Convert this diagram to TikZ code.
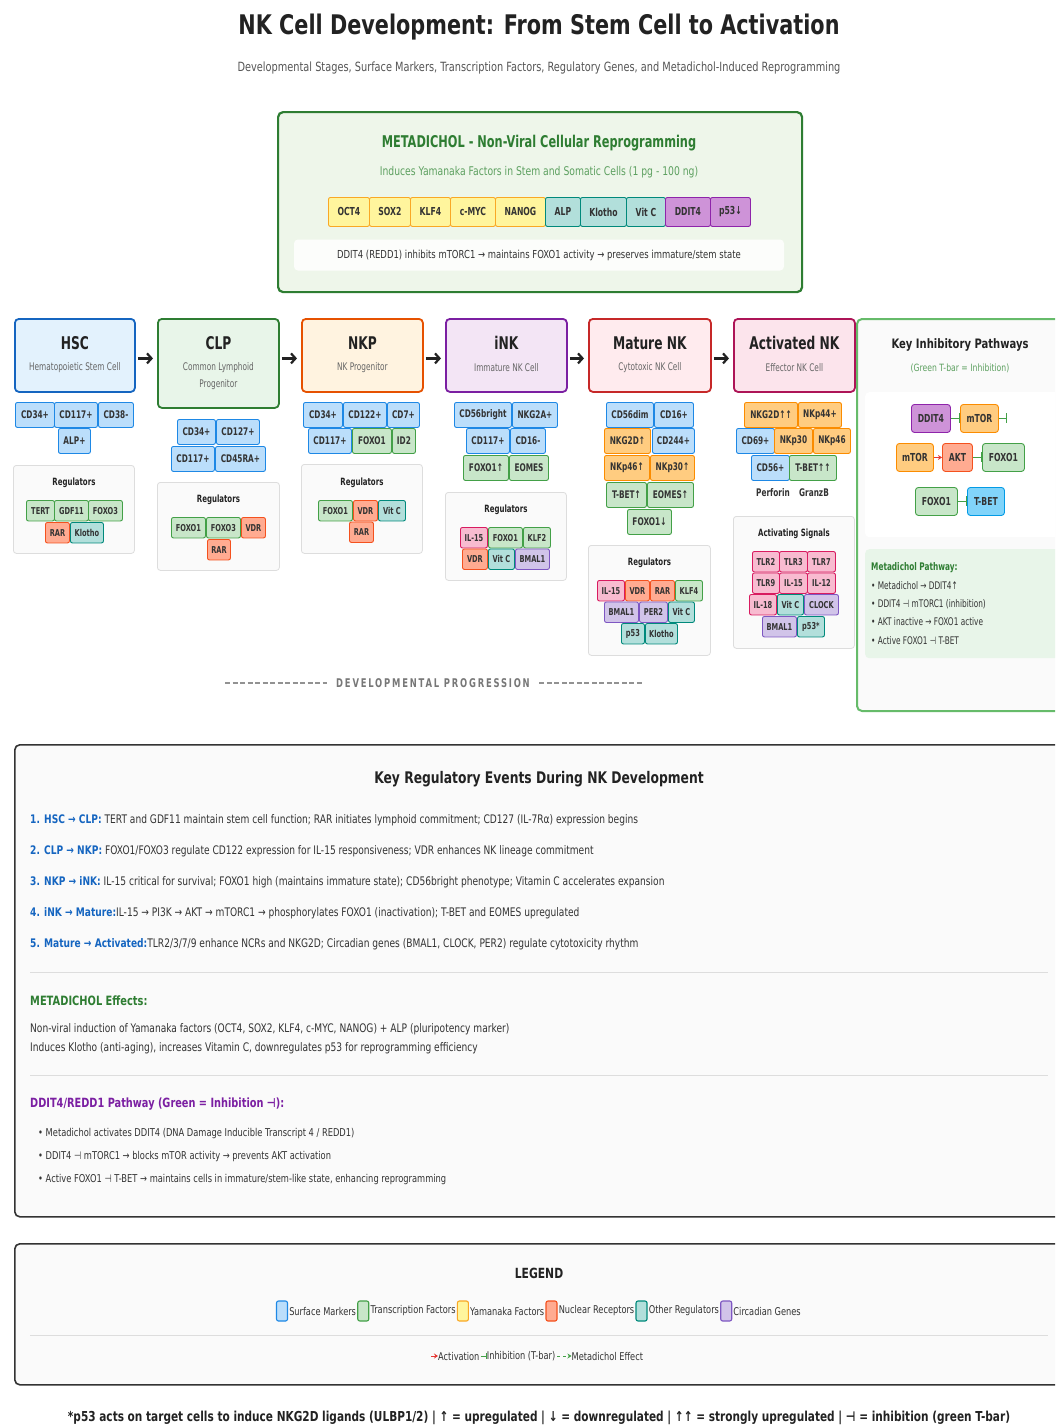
\documentclass[tikz,border=0pt]{standalone}
\usepackage{fontspec}
\setmainfont{DejaVu Sans}[FakeStretch=0.7]
\newfontfamily\widefont{DejaVu Sans}[FakeStretch=0.77]
\usetikzlibrary{arrows.meta,positioning}

\definecolor{txtdark}{HTML}{333333}
\definecolor{txttitle}{HTML}{222222}
\definecolor{txtgray}{HTML}{555555}
\definecolor{txtmid}{HTML}{666666}
\definecolor{mdline}{HTML}{2E7D32}
\definecolor{mdfill}{HTML}{EEF6EA}
\definecolor{mdsub}{HTML}{5DA060}
\definecolor{hscline}{HTML}{1565C0}
\definecolor{hscfill}{HTML}{E3F2FD}
\definecolor{clpline}{HTML}{2E7D32}
\definecolor{clpfill}{HTML}{E8F5E9}
\definecolor{nkpline}{HTML}{E65100}
\definecolor{nkpfill}{HTML}{FFF3E0}
\definecolor{inkline}{HTML}{7B1FA2}
\definecolor{inkfill}{HTML}{F3E5F5}
\definecolor{matline}{HTML}{C62828}
\definecolor{matfill}{HTML}{FFEBEE}
\definecolor{actline}{HTML}{AD1457}
\definecolor{actfill}{HTML}{FCE4EC}
\definecolor{surfF}{HTML}{BBDEFB}
\definecolor{surfL}{HTML}{1E88E5}
\definecolor{tfacF}{HTML}{C8E6C9}
\definecolor{tfacL}{HTML}{43A047}
\definecolor{yamaF}{HTML}{FFF59D}
\definecolor{yamaL}{HTML}{F9A825}
\definecolor{nrecF}{HTML}{FFAB91}
\definecolor{nrecL}{HTML}{F4511E}
\definecolor{othrF}{HTML}{B2DFDB}
\definecolor{othrL}{HTML}{00897B}
\definecolor{circF}{HTML}{D1C4E9}
\definecolor{circL}{HTML}{7E57C2}
\definecolor{actrF}{HTML}{FFCC80}
\definecolor{actrL}{HTML}{FB8C00}
\definecolor{cytoF}{HTML}{F8BBD0}
\definecolor{cytoL}{HTML}{D81B60}
\definecolor{dditF}{HTML}{CE93D8}
\definecolor{dditL}{HTML}{8E24AA}
\definecolor{tbetF}{HTML}{81D4FA}
\definecolor{tbetL}{HTML}{039BE5}
\definecolor{regF}{HTML}{FAFAFA}
\definecolor{regL}{HTML}{DDDDDD}
\definecolor{panL}{HTML}{66BB6A}
\definecolor{panG}{HTML}{E8F5E9}
\definecolor{inhG}{HTML}{43A047}
\definecolor{actR}{HTML}{E53935}
\definecolor{evblue}{HTML}{1565C0}
\definecolor{ddpurple}{HTML}{7B1FA2}
\definecolor{boxL}{HTML}{333333}
\definecolor{sepL}{HTML}{DDDDDD}
\definecolor{progG}{HTML}{777777}

\newcommand{\fsz}[2]{\fontsize{#1}{#2}\selectfont}

\begin{document}
\begin{tikzpicture}[x=1pt,y=-1pt,
	chip/.style={draw,anchor=north west,inner sep=0pt,rounded corners=2pt,line width=0.9pt,minimum height=25,text=txtdark,font=\bfseries\fsz{10.5}{12}},
	rchip/.style={chip,minimum height=20.5,font=\bfseries\fsz{9.5}{11}},
	bchip/.style={chip,minimum height=29,font=\bfseries\fsz{11}{13}},
	pchip/.style={chip,minimum height=28,rounded corners=3pt,font=\bfseries\fsz{11}{13}},
	surf/.style={fill=surfF,draw=surfL},
	tfac/.style={fill=tfacF,draw=tfacL},
	yama/.style={fill=yamaF,draw=yamaL},
	nrec/.style={fill=nrecF,draw=nrecL},
	othr/.style={fill=othrF,draw=othrL},
	circ/.style={fill=circF,draw=circL},
	actr/.style={fill=actrF,draw=actrL},
	cyto/.style={fill=cytoF,draw=cytoL},
	ddit/.style={fill=dditF,draw=dditL},
	tbet/.style={fill=tbetF,draw=tbetL},
	stage/.style={draw,anchor=north west,rounded corners=4pt,line width=1.8pt,minimum width=121,minimum height=73},
	stitle/.style={font=\bfseries\fsz{17.5}{20},text=txttitle},
	ssub/.style={font=\fsz{10.5}{17},text=txtmid,align=center},
	regbox/.style={draw=regL,fill=regF,anchor=north west,rounded corners=3pt,line width=0.8pt,minimum width=121},
	reghead/.style={font=\bfseries\fsz{10}{12},text=txttitle},
	flow/.style={-{Straight Barb[length=4.5pt,width=10pt]},line width=2.2pt,draw=txttitle,shorten <=2pt,shorten >=4pt},
	inhib/.style={-{Bar[width=10pt]},line width=1.3pt,draw=inhG},
	act/.style={-{Stealth[length=4pt,width=5pt]},line width=1.3pt,draw=actR},
	bigbox/.style={draw=boxL,fill=regF,anchor=north west,rounded corners=5pt,line width=1.6pt},
	evline/.style={anchor=west,inner sep=0pt,font=\widefont\fsz{11.8}{14},text=txtdark},
	bullet/.style={anchor=west,inner sep=0pt,font=\widefont\fsz{10.8}{12},text=txtdark},
	swatch/.style={draw,inner sep=0pt,minimum width=11,minimum height=20,rounded corners=2pt,line width=1.1pt},
	lgtext/.style={inner sep=0pt,font=\widefont\fsz{10.7}{13},text=txtdark},
	sepline/.style={draw=sepL,line width=1pt}]
	\clip (0,0) rectangle (1055,1427);
	\useasboundingbox (0,0) rectangle (1055,1427);
	\fill[white] (0,0) rectangle (1055,1427);

	\node[font=\widefont\bfseries\fsz{27}{30},text=txttitle] (title) at (539,27) {NK Cell Development: From Stem Cell to Activation};
	\node[font=\widefont\fsz{12.7}{15},text=txtgray] (subtitle) at (539,68) {Developmental Stages, Surface Markers, Transcription Factors, Regulatory Genes, and Metadichol-Induced Reprogramming};

	\node[draw=mdline,fill=mdfill,line width=2.2pt,rounded corners=5pt,anchor=north west,minimum width=524,minimum height=180] (mdbox) at (277,111) {};
	\node[font=\bfseries\fsz{16.2}{19},text=mdline] (mdtitle) at (539,143.5) {METADICHOL - Non-Viral Cellular Reprogramming};
	\node[font=\widefont\fsz{12}{15},text=mdsub] (mdsub) at (539,172) {Induces Yamanaka Factors in Stem and Somatic Cells (1 pg - 100 ng)};
	\foreach \n/\x/\w/\ty/\lbl in {1/328/41/yama/OCT4,2/369/41/yama/SOX2,3/410/40/yama/KLF4,4/450/45/yama/c-MYC,5/495/50/yama/NANOG,6/545/35/othr/ALP,7/580/46/othr/Klotho,8/626/39/othr/Vit C,9/665/45/ddit/DDIT4,10/710/40/ddit/p53↓}
		\node[bchip,\ty,minimum width=\w] (md\n) at (\x,197) {\lbl};
	\node[fill=white,fill opacity=0.85,text opacity=1,rounded corners=4pt,minimum width=490,minimum height=31,font=\widefont\fsz{11}{13},text=txtdark] (mdnote) at (539,255) {DDIT4 (REDD1) inhibits mTORC1 → maintains FOXO1 activity → preserves immature/stem state};

	\node[stage,draw=hscline,fill=hscfill,minimum width=120] (hsc) at (14,318) {};
	\node[stitle] (hsct) at ([yshift=-25pt]hsc.north) {HSC};
	\node[ssub] (hscs) at ([yshift=-50pt]hsc.north) {Hematopoietic Stem Cell};
	\node[stage,draw=clpline,fill=clpfill,minimum height=89] (clp) at (157,318) {};
	\node[stitle] (clpt) at ([yshift=-25pt]clp.north) {CLP};
	\node[ssub] (clps) at ([yshift=-58.5pt]clp.north) {Common Lymphoid\\Progenitor};
	\node[stage,draw=nkpline,fill=nkpfill] (nkp) at (301,318) {};
	\node[stitle] (nkpt) at ([yshift=-25pt]nkp.north) {NKP};
	\node[ssub] (nkps) at ([yshift=-50pt]nkp.north) {NK Progenitor};
	\node[stage,draw=inkline,fill=inkfill] (ink) at (445,318) {};
	\node[stitle] (inkt) at ([yshift=-25pt]ink.north) {iNK};
	\node[ssub] (inks) at ([yshift=-50pt]ink.north) {Immature NK Cell};
	\node[stage,draw=matline,fill=matfill,minimum width=122] (mat) at (588,318) {};
	\node[stitle] (matt) at ([yshift=-25pt]mat.north) {Mature NK};
	\node[ssub] (mats) at ([yshift=-50pt]mat.north) {Cytotoxic NK Cell};
	\node[stage,draw=actline,fill=actfill] (actv) at (733,318) {};
	\node[stitle] (actvt) at ([yshift=-25pt]actv.north) {Activated NK};
	\node[ssub] (actvs) at ([yshift=-50pt]actv.north) {Effector NK Cell};

	\draw[flow] ([yshift=-3pt]hsc.east) -- ([yshift=-3pt]hsc.east -| clp.west);
	\draw[flow] ([yshift=-3pt]nkp.west -| clp.east) -- ([yshift=-3pt]nkp.west);
	\draw[flow] ([yshift=-3pt]nkp.east) -- ([yshift=-3pt]ink.west);
	\draw[flow] ([yshift=-3pt]ink.east) -- ([yshift=-3pt]mat.west);
	\draw[flow] ([yshift=-3pt]mat.east) -- ([yshift=-3pt]actv.west);

	\foreach \n/\x/\w/\ty/\lbl in {1/15/39/surf/CD34+,2/54/43/surf/CD117+,3/98/35/surf/CD38-}
		\node[chip,\ty,minimum width=\w] (hscm\n) at (\x,402) {\lbl};
	\node[chip,surf,minimum width=32] (hscm4) at (58,428) {ALP+};
	\node[regbox,minimum height=88] (hscreg) at (13,465) {};
	\node[reghead] (hscrh) at ([yshift=-18pt]hscreg.north) {Regulators};
	\foreach \n/\x/\w/\ty/\lbl in {1/26/28/tfac/TERT,2/54/34/tfac/GDF11,3/88/34/tfac/FOXO3}
		\node[rchip,\ty,minimum width=\w] (hscr\n) at (\x,500) {\lbl};
	\foreach \n/\x/\w/\ty/\lbl in {4/45/24/nrec/RAR,5/70/33/othr/Klotho}
		\node[rchip,\ty,minimum width=\w] (hscr\n) at (\x,522) {\lbl};

	\foreach \n/\x/\w/\ty/\lbl in {1/177/38/surf/CD34+,2/216/43/surf/CD127+}
		\node[chip,\ty,minimum width=\w] (clpm\n) at (\x,419) {\lbl};
	\foreach \n/\x/\w/\ty/\lbl in {3/171/43/surf/CD117+,4/215/50/surf/CD45RA+}
		\node[chip,\ty,minimum width=\w] (clpm\n) at (\x,446) {\lbl};
	\node[regbox,minimum height=88,minimum width=122] (clpreg) at (157,482) {};
	\node[reghead] (clprh) at ([yshift=-18pt]clpreg.north) {Regulators};
	\foreach \n/\x/\w/\ty/\lbl in {1/171/34/tfac/FOXO1,2/206/34/tfac/FOXO3,3/241/24/nrec/VDR}
		\node[rchip,\ty,minimum width=\w] (clpr\n) at (\x,517) {\lbl};
	\node[rchip,nrec,minimum width=23] (clpr4) at (207,539) {RAR};

	\foreach \n/\x/\w/\ty/\lbl in {1/303/39/surf/CD34+,2/343/43/surf/CD122+,3/387/32/surf/CD7+}
		\node[chip,\ty,minimum width=\w] (nkpm\n) at (\x,402) {\lbl};
	\foreach \n/\x/\w/\ty/\lbl in {4/308/43/surf/CD117+,5/352/39/tfac/FOXO1,6/392/23/tfac/ID2}
		\node[chip,\ty,minimum width=\w] (nkpm\n) at (\x,428) {\lbl};
	\node[regbox,minimum height=89] (nkpreg) at (301,464) {};
	\node[reghead] (nkprh) at ([yshift=-19pt]nkpreg.north) {Regulators};
	\foreach \n/\x/\w/\ty/\lbl in {1/318/34/tfac/FOXO1,2/353/24/nrec/VDR,3/378/27/othr/Vit C}
		\node[rchip,\ty,minimum width=\w] (nkpr\n) at (\x,500) {\lbl};
	\node[rchip,nrec,minimum width=24] (nkpr4) at (349,521.5) {RAR};

	\foreach \n/\x/\w/\ty/\lbl in {1/454/57/surf/CD56bright,2/512/45/surf/NKG2A+}
		\node[chip,\ty,minimum width=\w] (inkm\n) at (\x,402) {\lbl};
	\foreach \n/\x/\w/\ty/\lbl in {3/466/43/surf/CD117+,4/510/35/surf/CD16-}
		\node[chip,\ty,minimum width=\w] (inkm\n) at (\x,428) {\lbl};
	\foreach \n/\x/\w/\ty/\lbl in {5/463/45/tfac/FOXO1↑,6/509/39/tfac/EOMES}
		\node[chip,\ty,minimum width=\w] (inkm\n) at (\x,455) {\lbl};
	\node[regbox,minimum height=88] (inkreg) at (445,492) {};
	\node[reghead] (inkrh) at ([yshift=-18pt]inkreg.north) {Regulators};
	\foreach \n/\x/\w/\ty/\lbl in {1/460/27/cyto/IL-15,2/488/34/tfac/FOXO1,3/523/27/tfac/KLF2}
		\node[rchip,\ty,minimum width=\w] (inkr\n) at (\x,527) {\lbl};
	\foreach \n/\x/\w/\ty/\lbl in {4/462/25/nrec/VDR,5/488/26/othr/Vit C,6/515/34/circ/BMAL1}
		\node[rchip,\ty,minimum width=\w] (inkr\n) at (\x,548.5) {\lbl};

	\foreach \n/\x/\w/\ty/\lbl in {1/606/47/surf/CD56dim,2/654/39/surf/CD16+}
		\node[chip,\ty,minimum width=\w] (matm\n) at (\x,402) {\lbl};
	\foreach \n/\x/\w/\ty/\lbl in {3/604/46/actr/NKG2D↑,4/652/42/surf/CD244+}
		\node[chip,\ty,minimum width=\w] (matm\n) at (\x,428) {\lbl};
	\foreach \n/\x/\w/\ty/\lbl in {5/604/45/actr/NKp46↑,6/650/44/actr/NKp30↑}
		\node[chip,\ty,minimum width=\w] (matm\n) at (\x,455) {\lbl};
	\foreach \n/\x/\w/\ty/\lbl in {7/606/40/tfac/T-BET↑,8/647/46/tfac/EOMES↑}
		\node[chip,\ty,minimum width=\w] (matm\n) at (\x,482) {\lbl};
	\node[chip,tfac,minimum width=44] (matm9) at (627,509) {FOXO1↓};
	\node[regbox,minimum height=110,minimum width=122] (matreg) at (588,545) {};
	\node[reghead] (matrh) at ([yshift=-18pt]matreg.north) {Regulators};
	\foreach \n/\x/\w/\ty/\lbl in {1/597/27/cyto/IL-15,2/625/24/nrec/VDR,3/650/24/nrec/RAR,4/675/27/tfac/KLF4}
		\node[rchip,\ty,minimum width=\w] (matr\n) at (\x,580) {\lbl};
	\foreach \n/\x/\w/\ty/\lbl in {5/604/34/circ/BMAL1,6/639/28/circ/PER2,7/668/26/othr/Vit C}
		\node[rchip,\ty,minimum width=\w] (matr\n) at (\x,601.5) {\lbl};
	\foreach \n/\x/\w/\ty/\lbl in {8/621/23/othr/p53,9/645/32/othr/Klotho}
		\node[rchip,\ty,minimum width=\w] (matr\n) at (\x,623) {\lbl};

	\foreach \n/\x/\w/\ty/\lbl in {1/744/53/actr/NKG2D↑↑,2/798/43/actr/NKp44+}
		\node[chip,\ty,minimum width=\w] (actm\n) at (\x,402) {\lbl};
	\foreach \n/\x/\w/\ty/\lbl in {3/736/38/surf/CD69+,4/774/38/actr/NKp30,5/813/37/actr/NKp46}
		\node[chip,\ty,minimum width=\w] (actm\n) at (\x,428) {\lbl};
	\foreach \n/\x/\w/\ty/\lbl in {6/751/38/surf/CD56+,7/789/47/tfac/T-BET↑↑}
		\node[chip,\ty,minimum width=\w] (actm\n) at (\x,455) {\lbl};
	\node[font=\bfseries\fsz{10.5}{12},text=txtdark] (perf) at (773,493) {Perforin};
	\node[font=\bfseries\fsz{10.5}{12},text=txtdark] (gzb) at (814,493) {GranzB};
	\node[regbox,minimum height=132] (actreg) at (733,516) {};
	\node[reghead] (actrh) at ([yshift=-18pt]actreg.north) {Activating Signals};
	\foreach \n/\x/\w/\ty/\lbl in {1/752/27/cyto/TLR2,2/779/28/cyto/TLR3,3/807/28/cyto/TLR7}
		\node[rchip,\ty,minimum width=\w] (actr\n) at (\x,551) {\lbl};
	\foreach \n/\x/\w/\ty/\lbl in {4/752/27/cyto/TLR9,5/779/28/cyto/IL-15,6/807/28/cyto/IL-12}
		\node[rchip,\ty,minimum width=\w] (actr\n) at (\x,572.5) {\lbl};
	\foreach \n/\x/\w/\ty/\lbl in {7/749/27/cyto/IL-18,8/777/26/othr/Vit C,9/804/34/circ/CLOCK}
		\node[rchip,\ty,minimum width=\w] (actr\n) at (\x,594) {\lbl};
	\foreach \n/\x/\w/\ty/\lbl in {10/762/34/circ/BMAL1,11/797/27/othr/p53*}
		\node[rchip,\ty,minimum width=\w] (actr\n) at (\x,616) {\lbl};

	\node[draw=panL,fill=regF,line width=2pt,rounded corners=5pt,anchor=north west,minimum width=220,minimum height=392] (pan) at (856,318) {};
	\node[font=\widefont\bfseries\fsz{13}{15},text=txttitle] (pant) at (960,345) {Key Inhibitory Pathways};
	\node[font=\widefont\fsz{10}{12},text=mdsub] (pans) at (960,368) {(Green T-bar = Inhibition)};
	\node[fill=white,rounded corners=4pt,anchor=north west,minimum width=200,minimum height=145] (panw) at (865,392) {};
	\node[pchip,ddit,minimum width=39] (pd1) at (911,404) {DDIT4};
	\node[pchip,actr,minimum width=38] (pm1) at (960,404) {mTOR};
	\coordinate (pfree) at ([xshift=8pt]pm1.east);
	\node[pchip,actr,minimum width=37] (pm2) at (896,443) {mTOR};
	\node[pchip,nrec,minimum width=30] (pa2) at (942,443) {AKT};
	\node[pchip,tfac,minimum width=42] (pf2) at (982,443) {FOXO1};
	\node[pchip,tfac,minimum width=42] (pf3) at (915,487) {FOXO1};
	\node[pchip,tbet,minimum width=37] (pt3) at (967,487) {T-BET};
	\draw[inhib] (pd1.east) -- (pm1.west);
	\draw[inhib] (pm1.east) -- (pfree);
	\draw[act] (pm2.east) -- (pa2.west);
	\draw[inhib] (pa2.east) -- (pf2.west);
	\draw[inhib] (pf3.east) -- (pt3.west);
	\node[fill=panG,rounded corners=4pt,anchor=north west,minimum width=200,minimum height=109] (pang) at (865,549) {};
	\node[anchor=west,inner sep=0pt,font=\bfseries\fsz{10.5}{12},text=mdline] (panh) at (871,568) {Metadichol Pathway:};
	\node[bullet,font=\fsz{10.5}{12}] (pb1) at (871,586) {• Metadichol → DDIT4↑};
	\node[bullet,font=\fsz{10.5}{12}] (pb2) at (871,604) {• DDIT4 ⊣ mTORC1 (inhibition)};
	\node[bullet,font=\fsz{10.5}{12}] (pb3) at (871,622) {• AKT inactive → FOXO1 active};
	\node[bullet,font=\fsz{10.5}{12}] (pb4) at (871,640.5) {• Active FOXO1 ⊣ T-BET};

	\node[font=\bfseries\fsz{12}{14}\addfontfeature{LetterSpace=15},text=progG] (devp) at (433,683) {DEVELOPMENTAL PROGRESSION};
	\coordinate (dvl) at (225,683);
	\coordinate (dvr) at (642,683);
	\draw[progG!80,line width=1.2pt,dash pattern=on 5pt off 2.5pt,shorten >=6pt] (dvl) -- (devp.west);
	\draw[progG!80,line width=1.2pt,dash pattern=on 5pt off 2.5pt,shorten <=6pt] (devp.east) -- (dvr);

	\node[bigbox,minimum width=1060,minimum height=472] (evbox) at (14,744) {};
	\node[font=\widefont\bfseries\fsz{16}{19},text=txttitle] (evt) at (539,779) {Key Regulatory Events During NK Development};
	\node[evline] (ev1) at (30,820) {\textcolor{evblue}{\bfseries 1. HSC → CLP:} TERT and GDF11 maintain stem cell function; RAR initiates lymphoid commitment; CD127 (IL-7Rα) expression begins};
	\node[evline] (ev2) at (30,851) {\textcolor{evblue}{\bfseries 2. CLP → NKP:} FOXO1/FOXO3 regulate CD122 expression for IL-15 responsiveness; VDR enhances NK lineage commitment};
	\node[evline] (ev3) at (30,882) {\textcolor{evblue}{\bfseries 3. NKP → iNK:} IL-15 critical for survival; FOXO1 high (maintains immature state); CD56bright phenotype; Vitamin C accelerates expansion};
	\node[evline] (ev4) at (30,913) {\textcolor{evblue}{\bfseries 4. iNK → Mature:}IL-15 → PI3K → AKT → mTORC1 → phosphorylates FOXO1 (inactivation); T-BET and EOMES upregulated};
	\node[evline] (ev5) at (30,944) {\textcolor{evblue}{\bfseries 5. Mature → Activated:}TLR2/3/7/9 enhance NCRs and NKG2D; Circadian genes (BMAL1, CLOCK, PER2) regulate cytotoxicity rhythm};
	\draw[sepline] (30,972) -- (1048,972);
	\node[evline,font=\widefont\bfseries\fsz{12.8}{14},text=mdline] (eff) at (30,1001) {METADICHOL Effects:};
	\node[evline] (eff1) at (30,1029) {Non-viral induction of Yamanaka factors (OCT4, SOX2, KLF4, c-MYC, NANOG) + ALP (pluripotency marker)};
	\node[evline] (eff2) at (30,1048) {Induces Klotho (anti-aging), increases Vitamin C, downregulates p53 for reprogramming efficiency};
	\draw[sepline] (30,1075.5) -- (1048,1075.5);
	\node[evline,font=\widefont\bfseries\fsz{12.7}{14},text=ddpurple] (ddh) at (30,1104) {DDIT4/REDD1 Pathway (Green = Inhibition ⊣):};
	\node[bullet] (dd1) at (38,1134) {• Metadichol activates DDIT4 (DNA Damage Inducible Transcript 4 / REDD1)};
	\node[bullet] (dd2) at (38,1157) {• DDIT4 ⊣ mTORC1 → blocks mTOR activity → prevents AKT activation};
	\node[bullet] (dd3) at (38,1179.5) {• Active FOXO1 ⊣ T-BET → maintains cells in immature/stem-like state, enhancing reprogramming};

	\node[bigbox,minimum width=1060,minimum height=141] (lgbox) at (14,1243) {};
	\node[font=\widefont\bfseries\fsz{14}{16},text=txttitle] (lgt) at (539,1273) {LEGEND};
	\node[swatch,surf] (lg1) at (282,1311) {};
	\node[lgtext,right=1pt of lg1] (lt1) {Surface Markers};
	\node[swatch,tfac,right=1pt of lt1] (lg2) {};
	\node[lgtext,right=1pt of lg2] (lt2) {Transcription Factors};
	\node[swatch,yama,right=1pt of lt2] (lg3) {};
	\node[lgtext,right=1pt of lg3] (lt3) {Yamanaka Factors};
	\node[swatch,nrec,right=1pt of lt3] (lg4) {};
	\node[lgtext,right=1pt of lg4] (lt4) {Nuclear Receptors};
	\node[swatch,othr,right=1pt of lt4] (lg5) {};
	\node[lgtext,right=1pt of lg5] (lt5) {Other Regulators};
	\node[swatch,circ,right=1pt of lt5] (lg6) {};
	\node[lgtext,right=1pt of lg6] (lt6) {Circadian Genes};
	\draw[sepline] (30,1335) -- (1048,1335);
	\coordinate (la0) at (431,1356);
	\coordinate[right=7pt of la0] (la1);
	\draw[act,line width=1pt] (la0) -- (la1);
	\node[lgtext,right=0pt of la1] (lat) {Activation};
	\coordinate[right=1pt of lat] (lb0);
	\coordinate[right=6pt of lb0] (lb1);
	\draw[inhib,line width=1pt,-{Bar[width=6pt]}] (lb0) -- (lb1);
	\node[lgtext,right=0pt of lb1] (lbt) {Inhibition (T-bar)};
	\coordinate[right=2pt of lbt] (lc0);
	\coordinate[right=14pt of lc0] (lc1);
	\draw[act,draw=inhG,dashed,line width=1pt] (lc0) -- (lc1);
	\node[lgtext,right=0pt of lc1] (lct) {Metadichol Effect};

	\node[font=\widefont\bfseries\fsz{13.7}{16},text=txttitle] (foot) at (539,1418) {*p53 acts on target cells to induce NKG2D ligands (ULBP1/2) | ↑ = upregulated | ↓ = downregulated | ↑↑ = strongly upregulated | ⊣ = inhibition (green T-bar)};
\end{tikzpicture}
\end{document}
